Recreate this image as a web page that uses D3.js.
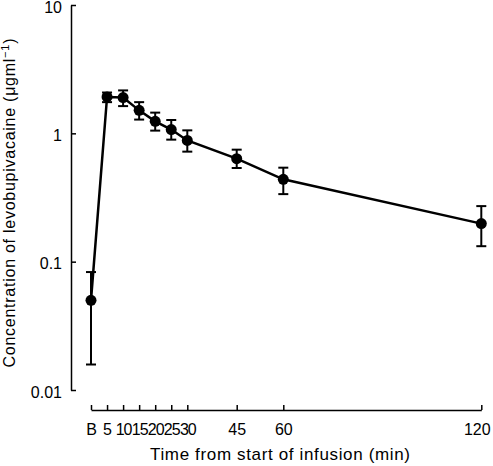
<!DOCTYPE html>
<html>
<head>
<meta charset="utf-8">
<script src="https://cdn.jsdelivr.net/npm/d3@7"></script>
<style>
  html, body { margin: 0; padding: 0; background: #fff; }
  svg { display: block; }
  text { font-family: "Liberation Sans", Arial, Helvetica, sans-serif; fill: #000; }
</style>
</head>
<body>
<svg id="chart" width="493" height="466"></svg>
<script>
// ---- Data ----
const times = [0, 5, 10, 15, 20, 25, 30, 45, 60, 120];
const timeLabels = ["B", "5", "10", "15", "20", "25", "30", "45", "60", "120"];
const meanConc = [0.05, 1.92, 1.90, 1.51, 1.24, 1.07, 0.88, 0.635, 0.438, 0.198];
const upperConc = [0.083, 2.08, 2.16, 1.75, 1.45, 1.27, 1.055, 0.746, 0.54, 0.271];
const lowerConc = [0.0158, 1.75, 1.63, 1.28, 1.05, 0.893, 0.72, 0.537, 0.336, 0.132];
const yTicks = [0.01, 0.1, 1, 10];
const yTickLabels = ["0.01", "0.1", "1", "10"];

const points = times.map((t, i) => ({ t, m: meanConc[i], hi: upperConc[i], lo: lowerConc[i] }));

const svg = d3.select("#chart");

const x = d3.scaleLinear()
  .domain([0, 30, 45, 60, 120])
  .range([91, 187.3, 236.7, 283.3, 481.3]);

const y = d3.scaleLog()
  .domain([0.01, 10])
  .range([390, 5]);

// Y axis
const yAxis = svg.append("g")
  .attr("transform", "translate(71,0)")
  .call(d3.axisLeft(y)
    .tickValues(yTicks)
    .tickFormat((d, i) => yTickLabels[i])
    .tickSizeInner(-5)
    .tickSizeOuter(0)
    .tickPadding(9));
yAxis.selectAll("path, line").attr("stroke", "#000").attr("stroke-width", 1.5);
yAxis.selectAll("text")
  .attr("dy", "7px")
  .style("font-size", "16px")
  .style("font-family", '"Liberation Sans", Arial, sans-serif');

// X axis
const xAxis = svg.append("g")
  .attr("transform", "translate(0,410)")
  .call(d3.axisBottom(x)
    .tickValues(times)
    .tickFormat((d, i) => timeLabels[i])
    .tickSizeInner(-5)
    .tickSizeOuter(0)
    .tickPadding(14));
xAxis.selectAll("path, line").attr("stroke", "#000").attr("stroke-width", 1.5);
xAxis.selectAll("text")
  .style("font-size", "16px")
  .style("font-family", '"Liberation Sans", Arial, sans-serif');
// closely packed labels 10..30 are tightened, as in the reference
xAxis.selectAll(".tick").filter(d => d >= 10 && d <= 30).select("text")
  .style("letter-spacing", "-1px");
// last label nudged left so it stays inside the frame, as in the reference
xAxis.selectAll(".tick").filter(d => d === 120).select("text").attr("dx", -4.5);

// Line
svg.append("path")
  .datum(points)
  .attr("fill", "none")
  .attr("stroke", "#000")
  .attr("stroke-width", 2.5)
  .attr("d", d3.line().x(d => x(d.t)).y(d => y(d.m)));

// Error bars
const eb = svg.append("g").attr("stroke", "#000").attr("stroke-width", 2);
eb.selectAll("line.v").data(points).join("line")
  .attr("x1", d => x(d.t)).attr("x2", d => x(d.t))
  .attr("y1", d => y(d.hi)).attr("y2", d => y(d.lo));
eb.selectAll("line.cap-hi").data(points).join("line")
  .attr("x1", d => x(d.t) - 5).attr("x2", d => x(d.t) + 5)
  .attr("y1", d => y(d.hi)).attr("y2", d => y(d.hi));
eb.selectAll("line.cap-lo").data(points).join("line")
  .attr("x1", d => x(d.t) - 5).attr("x2", d => x(d.t) + 5)
  .attr("y1", d => y(d.lo)).attr("y2", d => y(d.lo));

// Points
svg.append("g").selectAll("circle").data(points).join("circle")
  .attr("cx", d => x(d.t)).attr("cy", d => y(d.m)).attr("r", 5.5)
  .attr("fill", "#000");

// Axis titles
svg.append("text")
  .attr("x", 280).attr("y", 460)
  .attr("text-anchor", "middle")
  .attr("textLength", 260)
  .attr("lengthAdjust", "spacing")
  .style("font-size", "17px")
  .text("Time from start of infusion (min)");

const yt = svg.append("text")
  .attr("transform", "translate(15,203) rotate(-90)")
  .attr("text-anchor", "middle")
  .attr("textLength", 329)
  .attr("lengthAdjust", "spacing")
  .style("font-size", "16px");
yt.append("tspan").text("Concentration of levobupivacaine (\u03bcgml");
yt.append("tspan").attr("dy", -6).style("font-size", "11px").text("\u22121");
yt.append("tspan").attr("dy", 6).text(")");
</script>
</body>
</html>
